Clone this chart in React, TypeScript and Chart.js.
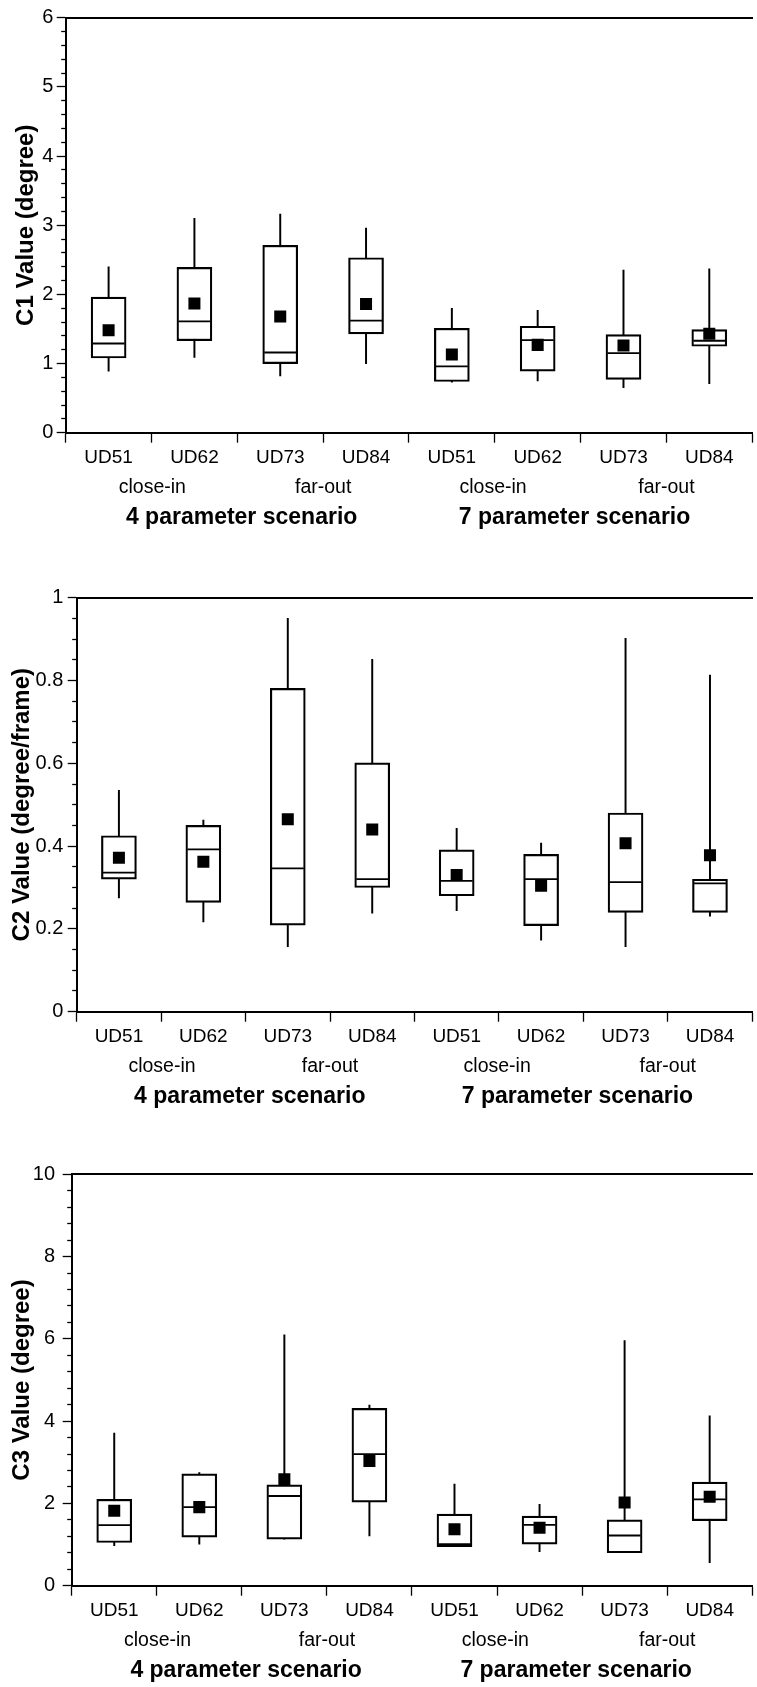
import React, { useEffect, useRef } from 'react';
import { Chart, registerables } from 'chart.js';

Chart.register(...registerables);

const FONT = "'Liberation Sans', Arial, Helvetica, sans-serif";

const CATEGORIES = ['UD51', 'UD62', 'UD73', 'UD84', 'UD51', 'UD62', 'UD73', 'UD84'];
const SUB_LABELS = ['close-in', 'far-out', 'close-in', 'far-out'];
const GROUP_LABELS = ['4 parameter scenario', '7 parameter scenario'];

// C1 (degree)
const c1Low = [0.89, 1.09, 0.82, 1.0, 0.73, 0.75, 0.65, 0.71];
const c1Q1 = [1.08, 1.33, 1.0, 1.43, 0.74, 0.89, 0.77, 1.25];
const c1Median = [1.29, 1.61, 1.16, 1.62, 0.96, 1.34, 1.15, 1.33];
const c1Q3 = [1.96, 2.39, 2.71, 2.53, 1.51, 1.54, 1.42, 1.49];
const c1High = [2.4, 3.1, 3.16, 2.96, 1.8, 1.77, 2.35, 2.37];
const c1Mean = [1.48, 1.87, 1.68, 1.86, 1.13, 1.27, 1.26, 1.43];

// C2 (degree/frame)
const c2Low = [0.275, 0.217, 0.157, 0.238, 0.244, 0.173, 0.157, 0.231];
const c2Q1 = [0.32, 0.264, 0.209, 0.3, 0.28, 0.208, 0.24, 0.24];
const c2Median = [0.336, 0.392, 0.346, 0.32, 0.316, 0.32, 0.313, 0.31];
const c2Q3 = [0.425, 0.45, 0.781, 0.601, 0.391, 0.38, 0.48, 0.32];
const c2High = [0.535, 0.463, 0.95, 0.851, 0.443, 0.407, 0.902, 0.813];
const c2Mean = [0.372, 0.362, 0.465, 0.44, 0.33, 0.304, 0.407, 0.378];

// C3 (degree)
const c3Low = [0.97, 1.01, 1.13, 1.21, 0.95, 0.83, 0.8, 0.56];
const c3Q1 = [1.05, 1.18, 1.13, 2.03, 0.95, 1.01, 0.8, 1.58];
const c3Median = [1.47, 1.91, 2.18, 3.2, 1.01, 1.48, 1.22, 2.1];
const c3Q3 = [2.1, 2.72, 2.45, 4.31, 1.74, 1.69, 1.6, 2.52];
const c3High = [3.71, 2.75, 6.1, 4.39, 2.47, 1.98, 5.96, 4.13];
const c3Mean = [1.82, 1.91, 2.59, 3.03, 1.37, 1.41, 2.02, 2.16];

type Panel = {
  top: number;
  height: number;
  padTop: number;
  padRight: number;
  padBottom: number;
  yWidth: number;
  max: number;
  step: number;
  major: number;
  title: string;
  titlePad: number;
  labelPad: number;
  low: number[];
  q1: number[];
  median: number[];
  q3: number[];
  high: number[];
  mean: number[];
};

const SUB_POS = [1.01, 3.0, 4.98, 7.0];
const GROUP_POS = [2.05, 5.93];

const PANELS: Panel[] = [
  {
    top: 0, height: 543, padTop: 15.7, padRight: 10.7, padBottom: 4.3, yWidth: 65.7,
    max: 6, step: 0.2, major: 1, title: 'C1 Value (degree)', titlePad: 12, labelPad: 3.4,
    low: c1Low, q1: c1Q1, median: c1Median, q3: c1Q3, high: c1High, mean: c1Mean,
  },
  {
    top: 560, height: 562, padTop: 37.7, padRight: 7.7, padBottom: 4.3, yWidth: 76.7,
    max: 1, step: 0.05, major: 0.2, title: 'C2 Value (degree/frame)', titlePad: 8, labelPad: 4.4,
    low: c2Low, q1: c2Q1, median: c2Median, q3: c2Q3, high: c2High, mean: c2Mean,
  },
  {
    top: 1140, height: 556, padTop: 34.3, padRight: 4.7, padBottom: 4.3, yWidth: 71.7,
    max: 10, step: 0.4, major: 2, title: 'C3 Value (degree)', titlePad: 8, labelPad: 7.7,
    low: c3Low, q1: c3Q1, median: c3Median, q3: c3Q3, high: c3High, mean: c3Mean,
  },
];

function isMajor(v: number, major: number) {
  const r = v / major;
  return Math.abs(r - Math.round(r)) < 1e-6;
}

function fmt(v: number) {
  return String(Math.round(v * 100) / 100);
}

function buildConfig(p: Panel): any {
  return {
    type: 'bar',
    data: {
      labels: CATEGORIES,
      datasets: [
        {
          type: 'bar',
          label: 'whisker',
          data: p.low.map((v, i) => [v, p.high[i]]),
          backgroundColor: '#000',
          borderWidth: 0,
          barThickness: 1.3,
          grouped: false,
          order: 4,
          xAxisID: 'x',
          yAxisID: 'y',
        },
        {
          type: 'bar',
          label: 'box',
          data: p.q1.map((v, i) => [v, p.q3[i]]),
          backgroundColor: '#fff',
          borderColor: '#000',
          borderWidth: 2.2,
          borderSkipped: false,
          barThickness: 35,
          grouped: false,
          order: 3,
          xAxisID: 'x',
          yAxisID: 'y',
        },
        {
          type: 'line',
          label: 'median',
          data: p.median,
          showLine: false,
          pointStyle: 'line',
          pointRadius: 16,
          pointHoverRadius: 16,
          pointBorderWidth: 1.8,
          pointBorderColor: '#000',
          pointBackgroundColor: '#000',
          order: 2,
          xAxisID: 'x',
          yAxisID: 'y',
        },
        {
          type: 'line',
          label: 'mean',
          data: p.mean,
          showLine: false,
          pointStyle: 'rect',
          pointRadius: 8.5,
          pointHoverRadius: 8.5,
          pointBorderWidth: 0,
          pointBackgroundColor: '#000',
          order: 1,
          xAxisID: 'x',
          yAxisID: 'y',
        },
      ],
    },
    options: {
      animation: false,
      responsive: false,
      maintainAspectRatio: false,
      devicePixelRatio: 1,
      events: [],
      layout: { padding: { top: p.padTop, right: p.padRight, bottom: p.padBottom, left: 0 } },
      plugins: { legend: { display: false }, tooltip: { enabled: false } },
      scales: {
        x: {
          type: 'category',
          position: 'bottom',
          offset: true,
          grid: {
            display: true, offset: true, drawOnChartArea: false, drawTicks: true,
            tickLength: 10, tickWidth: 1.3, tickColor: '#000',
          },
          border: { display: true, color: '#000', width: 2 },
          ticks: {
            font: { family: FONT, size: 19 }, color: '#000', padding: 3.6,
            autoSkip: false, maxRotation: 0, minRotation: 0,
          },
          afterFit: (s: any) => { s.height = 40; },
        },
        xSub: {
          type: 'linear',
          position: 'bottom',
          min: 0,
          max: 8,
          offset: false,
          grid: { display: false, drawTicks: false, offset: false },
          border: { display: false },
          afterBuildTicks: (s: any) => { s.ticks = SUB_POS.map((v) => ({ value: v })); },
          ticks: {
            font: { family: FONT, size: 19.5 }, color: '#000', padding: 3.4,
            autoSkip: false, maxRotation: 0, minRotation: 0,
            callback: (_v: any, i: number) => SUB_LABELS[i],
          },
          afterFit: (s: any) => { s.height = 30; },
        },
        xGrp: {
          type: 'linear',
          position: 'bottom',
          min: 0,
          max: 8,
          offset: false,
          grid: { display: false, drawTicks: false, offset: false },
          border: { display: false },
          afterBuildTicks: (s: any) => { s.ticks = GROUP_POS.map((v) => ({ value: v })); },
          ticks: {
            font: { family: FONT, size: 23, weight: 'bold' }, color: '#000', padding: 1.2,
            autoSkip: false, maxRotation: 0, minRotation: 0,
            callback: (_v: any, i: number) => GROUP_LABELS[i],
          },
          afterFit: (s: any) => { s.height = 36; },
        },
        xTop: {
          type: 'linear',
          position: 'top',
          min: 0,
          max: 1,
          offset: false,
          grid: { display: false, drawTicks: false, offset: false },
          border: { display: true, color: '#000', width: 2 },
          ticks: { display: false },
          afterFit: (s: any) => { s.height = 0; },
        },
        y: {
          type: 'linear',
          position: 'left',
          min: 0,
          max: p.max,
          beginAtZero: true,
          grid: {
            display: true, drawOnChartArea: false, drawTicks: true,
            tickLength: 9, tickWidth: 1.3, tickColor: '#000',
            tickBorderDash: (ctx: any) => (ctx.tick && isMajor(ctx.tick.value, p.major) ? [] : [4.5, 4.5]),
            tickBorderDashOffset: (ctx: any) => (ctx.tick && isMajor(ctx.tick.value, p.major) ? 0 : 4.5),
          },
          border: { display: true, color: '#000', width: 2 },
          ticks: {
            stepSize: p.step,
            maxTicksLimit: 1000,
            autoSkip: false,
            font: { family: FONT, size: 20 },
            color: '#000',
            padding: p.labelPad,
            callback: (v: any) => (isMajor(Number(v), p.major) ? fmt(Number(v)) : ''),
          },
          title: {
            display: true,
            text: p.title,
            color: '#000',
            font: { family: FONT, size: 24, weight: 'bold' },
            padding: { top: p.titlePad, bottom: 0 },
          },
          afterFit: (s: any) => { s.width = p.yWidth; },
        },
      },
    },
  };
}

function PanelChart({ p }: { p: Panel }) {
  const ref = useRef<HTMLCanvasElement | null>(null);
  useEffect(() => {
    if (!ref.current) return;
    const chart = new Chart(ref.current, buildConfig(p));
    return () => chart.destroy();
  }, [p]);
  return (
    <canvas
      ref={ref}
      width={770}
      height={p.height}
      style={{ position: 'absolute', left: 0, top: p.top, width: 770, height: p.height }}
    />
  );
}

export default function App() {
  return (
    <div
      style={{
        position: 'fixed', left: 0, top: 0, width: 757, height: 1687,
        overflow: 'hidden', background: '#fff',
      }}
    >
      {PANELS.map((p, i) => (
        <PanelChart key={i} p={p} />
      ))}
    </div>
  );
}
